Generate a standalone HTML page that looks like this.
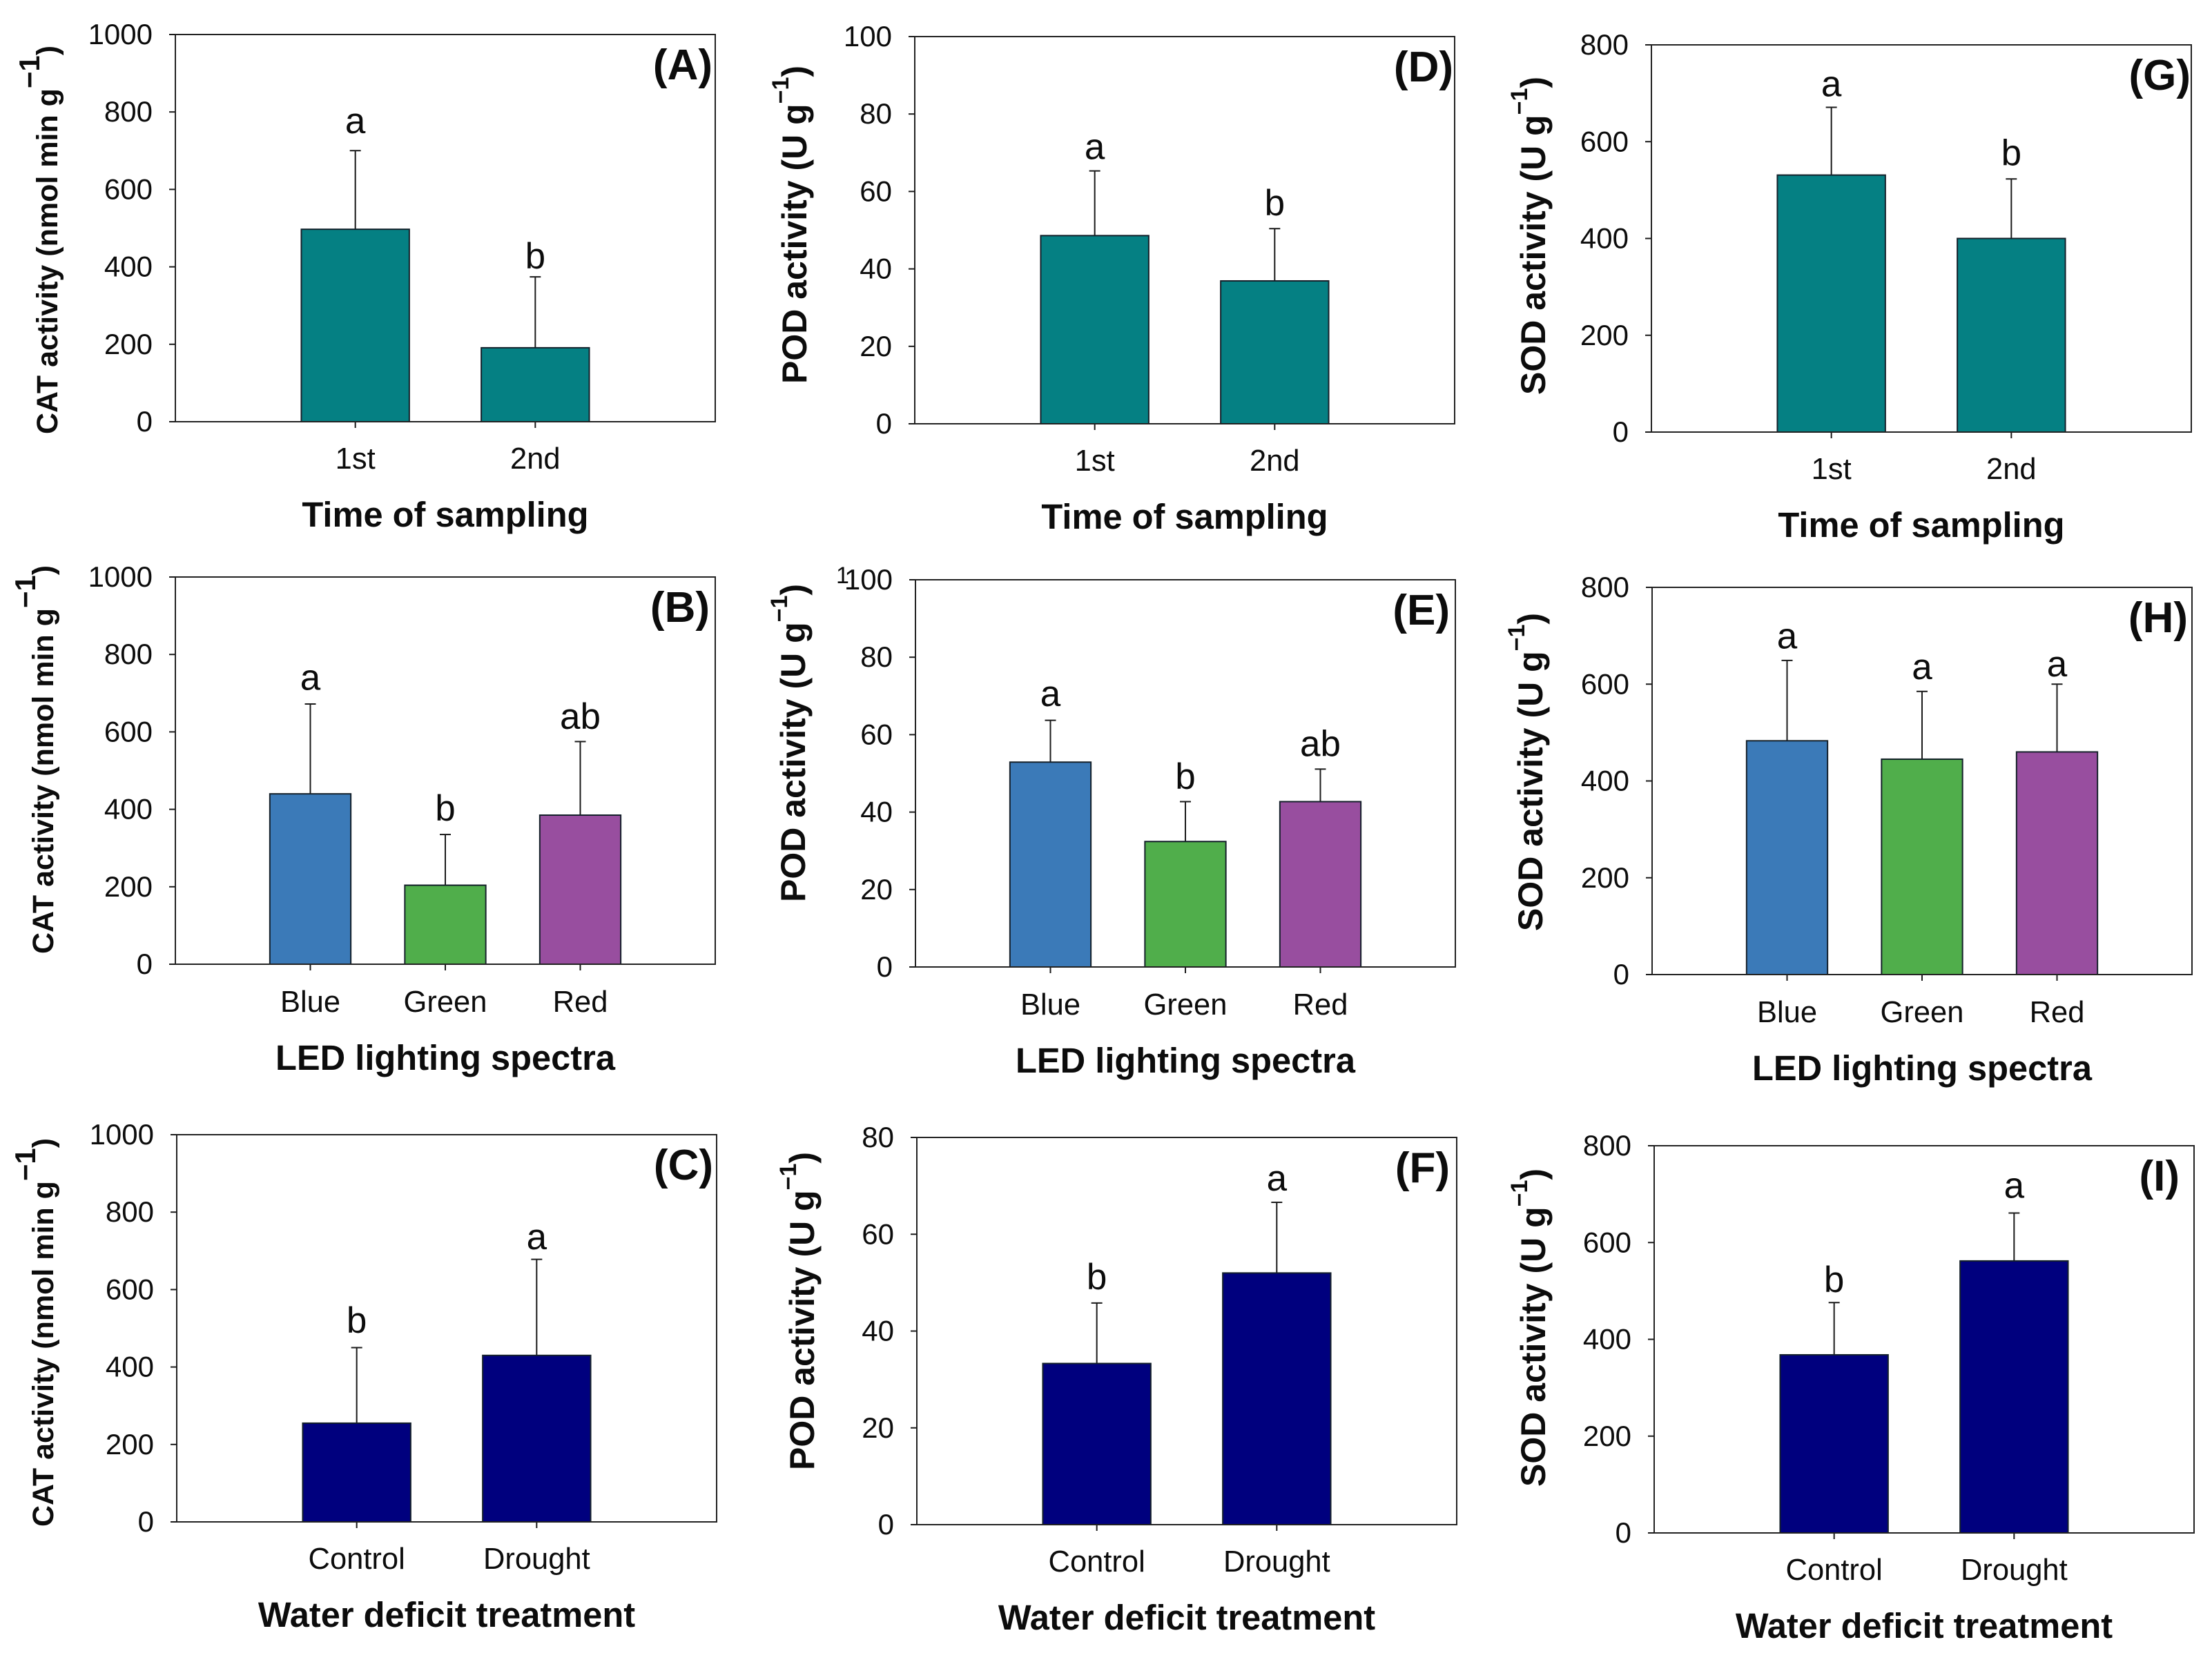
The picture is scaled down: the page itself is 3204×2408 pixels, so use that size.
<!DOCTYPE html>
<html lang="en">
<head>
<meta charset="utf-8">
<title>Antioxidant enzyme activity panels</title>
<style>
html,body{margin:0;padding:0;background:#fff;width:3204px;height:2408px;overflow:hidden}
svg{display:block}
text{font-family:"Liberation Sans",sans-serif;fill:#0c0c0c}
</style>
</head>
<body>
<svg id="figure" xmlns="http://www.w3.org/2000/svg" width="3204" height="2408" viewBox="0 0 3204 2408"></svg>
<script>
const timeCategories = ['1st', '2nd'];
const spectraCategories = ['Blue', 'Green', 'Red'];
const waterCategories = ['Control', 'Drought'];

const catTicks = [0, 200, 400, 600, 800, 1000];
const podTicks = [0, 20, 40, 60, 80, 100];
const podWaterTicks = [0, 20, 40, 60, 80];
const sodTicks = [0, 200, 400, 600, 800];

const valuesA = [497, 191];
const errorsA = [203, 183];
const lettersA = ['a', 'b'];
const letterLevelsA = [745, 396];

const valuesB = [440, 204, 385];
const errorsB = [232, 131, 190];
const lettersB = ['a', 'b', 'ab'];
const letterLevelsB = [709, 371, 608];

const valuesC = [255, 430];
const errorsC = [195, 248];
const lettersC = ['b', 'a'];
const letterLevelsC = [488, 704];

const valuesD = [48.6, 36.9];
const errorsD = [16.7, 13.5];
const lettersD = ['a', 'b'];
const letterLevelsD = [68.4, 53.8];

const valuesE = [52.9, 32.4, 42.7];
const errorsE = [10.8, 10.3, 8.4];
const lettersE = ['a', 'b', 'ab'];
const letterLevelsE = [67.4, 46, 54.5];

const valuesF = [33.3, 52];
const errorsF = [12.5, 14.6];
const lettersF = ['b', 'a'];
const letterLevelsF = [48.6, 69];

const valuesG = [531, 400];
const errorsG = [140, 123];
const lettersG = ['a', 'b'];
const letterLevelsG = [694, 551];

const valuesH = [483, 445, 460];
const errorsH = [166, 140, 140];
const lettersH = ['a', 'a', 'a'];
const letterLevelsH = [674, 610, 616];

const valuesI = [368, 562];
const errorsI = [108, 99];
const lettersI = ['b', 'a'];
const letterLevelsI = [498, 692];

const TEAL = '#058083', NAVY = '#00007e';
const spectraColors = ['#3b7ab8', '#50ae4b', '#984e9f'];
const SVGNS = 'http://www.w3.org/2000/svg';
const figure = document.getElementById('figure');
const PLOT_W = 782, PLOT_H = 561;

const panels = [
  {id:'A', left:254, top:50, cats:timeCategories, ticks:catTicks, values:valuesA, errors:errorsA, letters:lettersA, levels:letterLevelsA, colors:[TEAL,TEAL], xTitle:'Time of sampling', yName:'CAT activity (nmol min g', supSize:42, yFont:43, yX:83, yBottom:629, tagPad:4, xOff:68, titleOff:152},
  {id:'B', left:254, top:836, cats:spectraCategories, ticks:catTicks, values:valuesB, errors:errorsB, letters:lettersB, levels:letterLevelsB, colors:spectraColors, xTitle:'LED lighting spectra', yName:'CAT activity (nmol min g', supSize:42, yFont:43, yX:77, yBottom:1382, tagPad:8, xOff:69, titleOff:153},
  {id:'C', left:256, top:1644, cats:waterCategories, ticks:catTicks, values:valuesC, errors:errorsC, letters:lettersC, levels:letterLevelsC, colors:[NAVY,NAVY], xTitle:'Water deficit treatment', yName:'CAT activity (nmol min g', supSize:42, yFont:43, yX:77, yBottom:2212, tagPad:5, xOff:68, titleOff:152},
  {id:'D', left:1325, top:53, cats:timeCategories, ticks:podTicks, values:valuesD, errors:errorsD, letters:lettersD, levels:letterLevelsD, colors:[TEAL,TEAL], xTitle:'Time of sampling', yName:'POD activity (U g', supSize:34, yFont:50, yX:1168, yBottom:556, tagPad:2, xOff:68, titleOff:152},
  {id:'E', left:1326, top:840, cats:spectraCategories, ticks:podTicks, values:valuesE, errors:errorsE, letters:lettersE, levels:letterLevelsE, colors:spectraColors, xTitle:'LED lighting spectra', yName:'POD activity (U g', supSize:34, yFont:50, yX:1166, yBottom:1307, tagPad:8, xOff:69, titleOff:153},
  {id:'F', left:1328, top:1648, cats:waterCategories, ticks:podWaterTicks, values:valuesF, errors:errorsF, letters:lettersF, levels:letterLevelsF, colors:[NAVY,NAVY], xTitle:'Water deficit treatment', yName:'POD activity (U g', supSize:34, yFont:50, yX:1179, yBottom:2130, tagPad:10, xOff:68, titleOff:152},
  {id:'G', left:2392, top:65, cats:timeCategories, ticks:sodTicks, values:valuesG, errors:errorsG, letters:lettersG, levels:letterLevelsG, colors:[TEAL,TEAL], xTitle:'Time of sampling', yName:'SOD activity (U g', supSize:34, yFont:50, yX:2238, yBottom:572, tagPad:1, xOff:68, titleOff:152},
  {id:'H', left:2393, top:851, cats:spectraCategories, ticks:sodTicks, values:valuesH, errors:errorsH, letters:lettersH, levels:letterLevelsH, colors:spectraColors, xTitle:'LED lighting spectra', yName:'SOD activity (U g', supSize:34, yFont:50, yX:2234, yBottom:1349, tagPad:6, xOff:69, titleOff:153},
  {id:'I', left:2396, top:1660, cats:waterCategories, ticks:sodTicks, values:valuesI, errors:errorsI, letters:lettersI, levels:letterLevelsI, colors:[NAVY,NAVY], xTitle:'Water deficit treatment', yName:'SOD activity (U g', supSize:34, yFont:50, yX:2238, yBottom:2154, tagPad:21, xOff:68, titleOff:152}
];

function make(tag, parent, attrs, content) {
  const node = document.createElementNS(SVGNS, tag);
  for (const key in attrs) node.setAttribute(key, attrs[key]);
  if (content !== undefined) node.textContent = content;
  parent.appendChild(node);
  return node;
}

function drawPanel(p) {
  const bottom = p.top + PLOT_H;
  const right = p.left + PLOT_W;
  const axisMax = p.ticks[p.ticks.length - 1];
  const yScale = v => bottom - (v / axisMax) * PLOT_H;
  const slot = PLOT_W / (p.cats.length + 1);
  const xScale = i => p.left + (i + 1) * slot;
  const barW = slot * 0.6;

  const g = make('g', figure, {});
  
  

  p.values.forEach((v, i) => {
    const cx = xScale(i);
    const topY = yScale(v + p.errors[i]);
    const stem = make('line', g, {x1:cx, x2:cx, y1:yScale(v), y2:topY, stroke:'#1a1a1a', 'stroke-width':2});
    
    
    const cap = make('line', g, {x1:cx - 8, x2:cx + 8, y1:topY, y2:topY, stroke:'#1a1a1a', 'stroke-width':2});
    
    
    const bar = make('rect', g, {x:cx - barW / 2, y:yScale(v), width:barW, height:bottom - yScale(v), fill:p.colors[i], stroke:'#14202a', 'stroke-width':2});
    
    
    const letter = make('text', g, {x:cx, y:yScale(p.levels[i]), 'text-anchor':'middle', 'font-size':53}, p.letters[i]);
    
    
    const xTick = make('line', g, {x1:cx, x2:cx, y1:bottom, y2:bottom + 9, stroke:'#1a1a1a', 'stroke-width':2});
    
    
    const xLabel = make('text', g, {x:cx, y:bottom + p.xOff, 'text-anchor':'middle', 'font-size':43.5}, p.cats[i]);
    
    
  });

  const frame = make('rect', g, {x:p.left, y:p.top, width:PLOT_W, height:PLOT_H, fill:'none', stroke:'#222', 'stroke-width':2});
  
  

  p.ticks.forEach(t => {
    const y = yScale(t);
    const yTick = make('line', g, {x1:p.left - 9, x2:p.left, y1:y, y2:y, stroke:'#1a1a1a', 'stroke-width':2});
    
    
    const yLabel = make('text', g, {x:p.left - 33, y:y + 14, 'text-anchor':'end', 'font-size':42}, t);
    
    
  });

  const xTitle = make('text', g, {x:p.left + PLOT_W / 2, y:bottom + p.titleOff, 'text-anchor':'middle', 'font-size':50.6, 'font-weight':'bold'}, p.xTitle);
  
  

  const yTitle = make('text', g, {x:p.yX, y:p.yBottom, transform:'rotate(-90 ' + p.yX + ' ' + p.yBottom + ')', 'font-size':p.yFont, 'font-weight':'bold'});
  
  
  make('tspan', yTitle, {}, p.yName);
  make('tspan', yTitle, {dy:-26, 'font-size':p.supSize}, '\u22121');
  make('tspan', yTitle, {dy:26}, ')');

  const tag = make('text', g, {x:right - p.tagPad, y:p.top + 65, 'text-anchor':'end', 'font-size':62, 'font-weight':'bold'}, '(' + p.id + ')');
  
  
}

panels.forEach(drawPanel);

const strayMark = make('text', figure, {x:1211, y:845, 'font-size':34}, '1');


</script>
</body>
</html>
